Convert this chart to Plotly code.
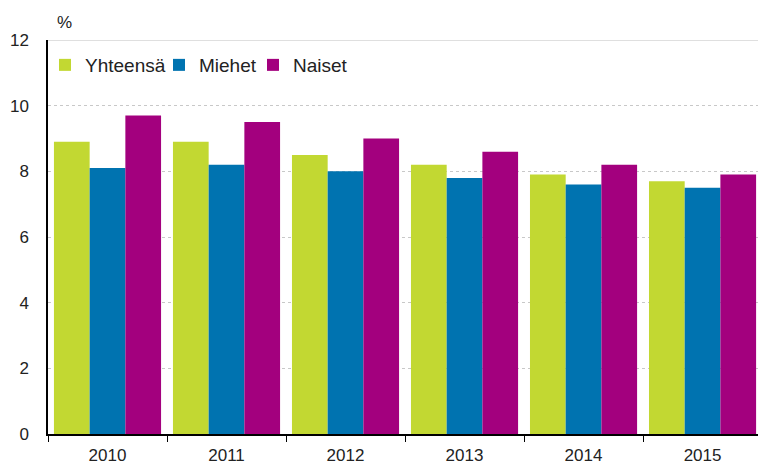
import plotly.graph_objects as go

years = ["2010", "2011", "2012", "2013", "2014", "2015"]
yhteensa = [8.9, 8.9, 8.5, 8.2, 7.9, 7.7]
miehet = [8.1, 8.2, 8.0, 7.8, 7.6, 7.5]
naiset = [9.7, 9.5, 9.0, 8.6, 8.2, 7.9]
series_names = ["Yhteensä", "Miehet", "Naiset"]
colors = ["#c2d832", "#0073b0", "#a3007e"]
y_ticks = [0, 2, 4, 6, 8, 10, 12]

legend_ids = ["legend", "legend2", "legend3"]
legend_x = [-0.0042, 0.1563, 0.2887]

fig = go.Figure()
for name, vals, col, lid in zip(series_names, [yhteensa, miehet, naiset], colors, legend_ids):
    fig.add_trace(go.Bar(x=years, y=vals, name=name, legend=lid,
                         marker=dict(color=col, line=dict(width=0))))

font = dict(family="Liberation Sans, Arial, sans-serif", size=17, color="#222222")
legend_font = dict(family="Liberation Sans, Arial, sans-serif", size=19, color="#222222")

legends = {}
for lid, lx in zip(legend_ids, legend_x):
    legends[lid] = dict(orientation="h", x=lx, xanchor="left", y=0.9365, yanchor="middle",
                        bgcolor="rgba(0,0,0,0)", font=legend_font, itemwidth=30)

fig.update_layout(
    width=758, height=468,
    margin=dict(l=48, r=0, t=40, b=34),
    paper_bgcolor="white", plot_bgcolor="white",
    barmode="group", bargap=0.1, bargroupgap=0,
    font=font,
    showlegend=True,
    xaxis=dict(type="category", range=[-0.5, 5.466], showgrid=False,
               showline=True, linecolor="#000000", linewidth=1.5,
               ticks="outside", ticklen=6, tickcolor="#000000", tickson="boundaries",
               tickfont=font, ticklabelstandoff=5),
    yaxis=dict(range=[0, 12], tickvals=y_ticks, showgrid=True, gridcolor="#c8c8c8",
               griddash="dot", gridwidth=1, showline=True, linecolor="#000000", linewidth=1.5,
               ticks="", zeroline=False, tickfont=font, ticklabelstandoff=14),
    **legends,
)

fig.add_shape(type="line", xref="paper", yref="y", x0=0, x1=1, y0=12, y1=12,
              line=dict(color="#d4d4d4", width=1.5), layer="below")

fig.add_annotation(text="%", xref="paper", yref="paper", x=0, y=1, xanchor="left", yanchor="bottom",
                   xshift=7, yshift=6, showarrow=False, font=font)

fig.write_html(
    "out.html",
    config={"displayModeBar": False},
    post_script="document.body.style.margin='0';document.body.style.overflow='hidden';",
)
